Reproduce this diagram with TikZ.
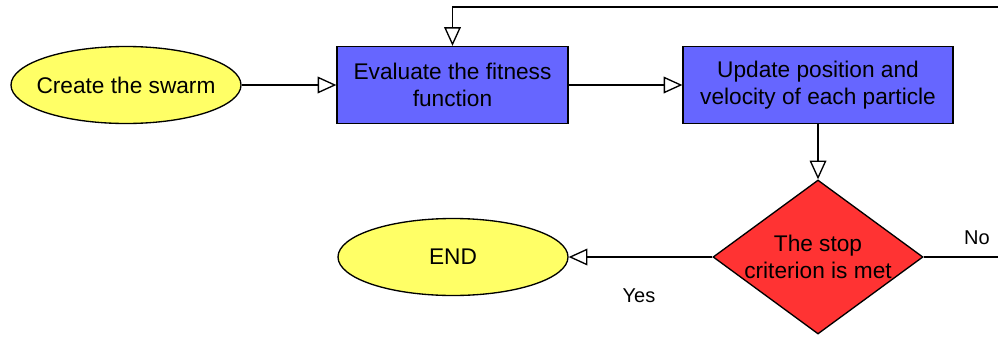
\documentclass[tikz,border=0pt]{standalone}
\usepackage{fontspec}
\setmainfont{Liberation Sans}
\usetikzlibrary{shapes.geometric,arrows.meta}
\definecolor{termfill}{HTML}{FFFF66}
\definecolor{procfill}{HTML}{6666FF}
\definecolor{decfill}{HTML}{FF3333}
\begin{document}
\begin{tikzpicture}[x=0.75pt,y=-0.75pt,
 boxfont/.style={font=\fontsize{17}{20}\selectfont},
 term/.style={ellipse,draw,line width=1pt,fill=termfill,minimum width=172.5pt,minimum height=57.75pt,inner sep=0pt,boxfont},
 proc/.style={rectangle,draw,line width=1pt,fill=procfill,minimum height=57.75pt,inner sep=0pt,align=center,boxfont},
 dec/.style={diamond,draw,line width=1pt,fill=decfill,minimum width=157.5pt,minimum height=115.5pt,inner sep=0pt,align=center,boxfont},
 flow/.style={draw,line width=1.1pt,-{Triangle[length=14pt,width=12.5pt,fill=white,line width=1pt]}},
 lbl/.style={font=\fontsize{15}{17}\selectfont}]
\useasboundingbox (0,0) rectangle (998,336);
\clip (0,0) rectangle (998,336);
\node[term] (create) at (126,85) {\makebox[0pt]{Create the swarm}};
\node[proc,minimum width=173.25pt] (eval) at (452.5,85) {Evaluate the fitness\\function};
\node[proc,minimum width=202.5pt] (update) at (818,85) {Update position and\\velocity of each particle};
\node[dec] (stop) at (818,257) {\makebox[0pt]{The stop}\\\makebox[0pt]{criterion is met}};
\node[term] (end) at (453,257) {\makebox[0pt]{END}};
\coordinate (loopA) at (1010,257);
\coordinate (loopB) at (1010,7);
\coordinate (loopC) at (452.5,7);
\path[flow] (create) -- (eval);
\path[flow] (eval) -- (update);
\path[flow] (update) -- (stop);
\path[flow] (stop.west) -- (end.east);
\path[flow] (stop.east) -- (loopA) -- (loopB) -- (loopC) -- (eval.north);
\node[lbl] (yes) at (639,296) {Yes};
\node[lbl] (no) at (977,238) {No};
\end{tikzpicture}
\end{document}
